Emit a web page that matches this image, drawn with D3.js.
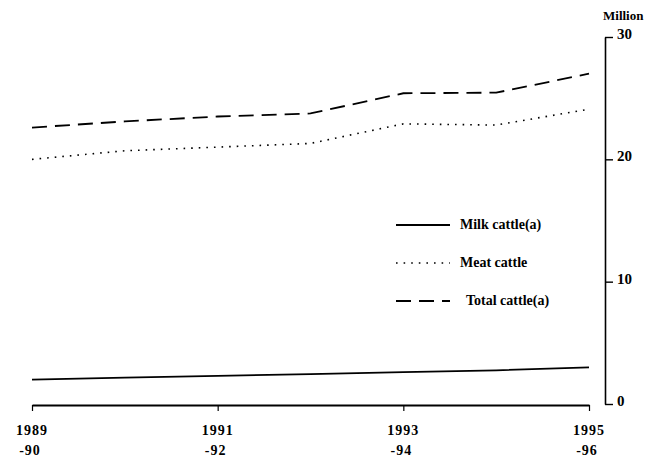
<!DOCTYPE html>
<html>
<head>
<meta charset="utf-8">
<script src="https://cdn.jsdelivr.net/npm/d3@7"></script>
<style>
  body { margin: 0; background: #fff; }
  svg text { font-family: "Liberation Serif", "DejaVu Serif", serif; font-weight: bold; fill: #000; }
</style>
</head>
<body>
<div class="chart"></div>
<script>
const width = 671;
const height = 459;

// financial years, one point each
const years = ["1989-90", "1990-91", "1991-92", "1992-93", "1993-94", "1994-95", "1995-96"];
const tickYears = ["1989-90", "1991-92", "1993-94", "1995-96"];
const milkCattle = [2.0, 2.15, 2.3, 2.45, 2.6, 2.75, 3.0];
const meatCattle = [20.0, 20.7, 21.0, 21.3, 22.9, 22.8, 24.1];
const totalCattle = [22.6, 23.1, 23.5, 23.75, 25.4, 25.45, 27.0];
const yTicks = [0, 10, 20, 30];

const series = [
  { name: "Milk cattle(a)", values: milkCattle, dash: null, w: 1.8 },
  { name: "Meat cattle", values: meatCattle, dash: "1.6,6", w: 1.6 },
  { name: "Total cattle(a)", values: totalCattle, dash: "15,8", w: 1.8 }
];

const svg = d3.select(".chart").append("svg").attr("width", width).attr("height", height);

const x = d3.scalePoint().domain(years).range([32, 589]);
const y = d3.scaleLinear().domain([0, 30]).range([404, 37]);

// y axis on the right
const yAxis = svg.append("g")
    .attr("transform", "translate(605,0)")
    .call(d3.axisRight(y).tickValues(yTicks).tickSize(8).tickSizeOuter(0).tickPadding(4));
yAxis.select(".domain").attr("stroke-width", 1.6);
yAxis.selectAll(".tick line").attr("stroke-width", 1.4);
yAxis.selectAll(".tick text").attr("font-size", 15).attr("dy", "0.1em")
    .attr("font-family", "Liberation Serif").attr("font-weight", "bold");

svg.append("text")
    .attr("x", 603).attr("y", 20)
    .attr("font-size", 13)
    .text("Million");

// x axis at the bottom
const xAxis = svg.append("g")
    .attr("transform", "translate(0,405)")
    .call(d3.axisBottom(x).tickValues(tickYears).tickSize(6).tickSizeOuter(0).tickFormat(""));
xAxis.select(".domain").attr("stroke-width", 1.8);
xAxis.selectAll(".tick line").attr("stroke-width", 1.2);

const xl = svg.append("g").selectAll("text")
    .data(tickYears)
    .join("text")
      .attr("text-anchor", "middle")
      .attr("font-size", 14)
      .attr("letter-spacing", 1);
xl.append("tspan")
    .attr("x", d => x(d))
    .attr("y", 435)
    .text(d => d.split("-")[0]);
xl.append("tspan")
    .attr("x", d => x(d) - 2)
    .attr("y", 455)
    .text(d => "-" + d.split("-")[1]);

const line = d3.line()
    .x((d, i) => x(years[i]))
    .y(d => y(d));

svg.selectAll(".series")
  .data(series)
  .join("path")
    .attr("class", "series")
    .attr("fill", "none")
    .attr("stroke", "#000")
    .attr("stroke-width", d => d.w)
    .attr("stroke-dasharray", d => d.dash)
    .attr("d", d => line(d.values));

// legend
const legend = svg.append("g").selectAll("g")
  .data(series)
  .join("g")
    .attr("transform", (d, i) => `translate(396,${225 + i * 38})`);
legend.append("line")
    .attr("x1", 0).attr("x2", 54)
    .attr("stroke", "#000")
    .attr("stroke-width", d => d.w)
    .attr("stroke-dasharray", d => d.dash);
legend.append("text")
    .attr("x", (d, i) => i === 2 ? 70 : 64)
    .attr("y", 4)
    .attr("font-size", 14)
    .text(d => d.name);
</script>
</body>
</html>
